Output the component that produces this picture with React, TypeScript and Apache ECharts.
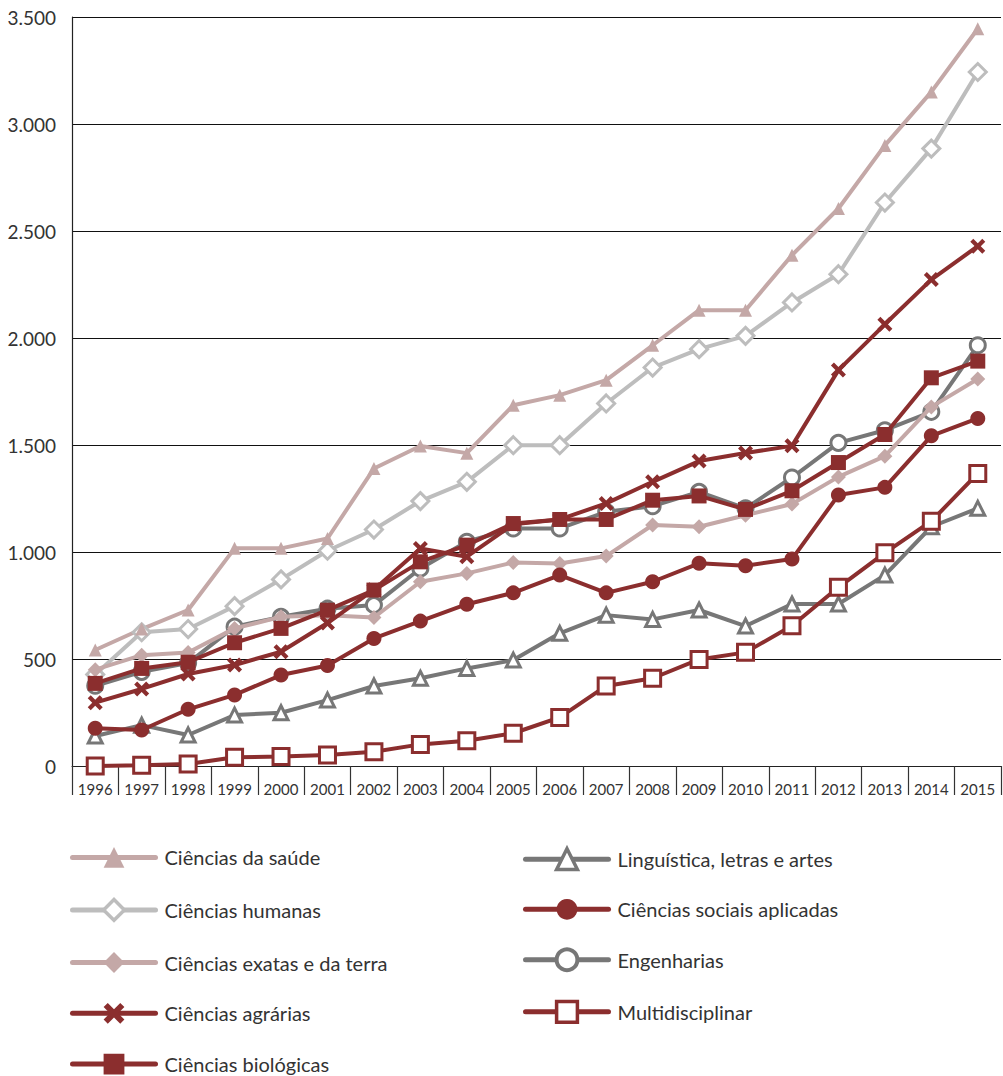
import React, { useEffect, useRef } from "react";
import * as echarts from "echarts";

const years = ["1996","1997","1998","1999","2000","2001","2002","2003","2004","2005","2006","2007","2008","2009","2010","2011","2012","2013","2014","2015"];
const yTicks = [0, 500, 1000, 1500, 2000, 2500, 3000, 3500];

const saude = [542, 640, 729, 1017, 1017, 1063, 1390, 1495, 1462, 1686, 1733, 1803, 1966, 2130, 2130, 2387, 2605, 2900, 3150, 3445];
const humanas = [428, 625, 640, 747, 872, 1006, 1105, 1238, 1328, 1499, 1499, 1694, 1862, 1948, 2010, 2166, 2298, 2633, 2885, 3243];
const exatas = [450, 518, 530, 643, 697, 705, 694, 861, 900, 951, 946, 981, 1126, 1118, 1172, 1224, 1351, 1448, 1678, 1808];
const agrarias = [296, 360, 430, 472, 534, 668, 824, 1016, 978, 1130, 1152, 1227, 1328, 1425, 1463, 1496, 1850, 2064, 2273, 2429];
const biologicas = [386, 456, 485, 576, 643, 728, 822, 954, 1032, 1133, 1152, 1152, 1242, 1262, 1199, 1286, 1418, 1549, 1814, 1892];
const linguistica = [140, 191, 145, 238, 249, 308, 374, 410, 456, 495, 620, 705, 685, 729, 654, 757, 757, 892, 1118, 1204];
const sociais = [176, 168, 265, 332, 425, 470, 596, 677, 756, 809, 892, 809, 861, 947, 936, 967, 1266, 1302, 1543, 1624];
const engenharias = [375, 440, 481, 651, 697, 735, 752, 923, 1048, 1110, 1110, 1188, 1214, 1281, 1204, 1348, 1510, 1569, 1655, 1966];
const multidisciplinar = [0, 3, 9, 41, 44, 51, 67, 101, 118, 153, 227, 374, 410, 498, 531, 655, 835, 996, 1144, 1367];

const PINK = "#c4a8a7";
const LGRAY = "#bdbdbd";
const RED = "#8b2e2e";
const DGRAY = "#777777";
const XPATH = "path://M0,2 L2,0 L5,3 L8,0 L10,2 L7,5 L10,8 L8,10 L5,7 L2,10 L0,8 L3,5 Z";

const FONT = "Lato, 'Open Sans', sans-serif";

export default function App() {
  const ref = useRef<HTMLDivElement>(null);
  useEffect(() => {
    document.body.style.margin = "0";
    const chart = echarts.init(ref.current!, null, { renderer: "svg" });

    const mk = (name: string, data: number[], color: string, symbol: string, size: number, open: boolean, z: number) => ({
      name,
      type: "line",
      data,
      z,
      symbol,
      symbolSize: size,
      symbolKeepAspect: false,
      showAllSymbol: true,
      lineStyle: { color, width: 4 },
      itemStyle: open
        ? { color: "#ffffff", borderColor: color, borderWidth: 3 }
        : { color, borderColor: color, borderWidth: 0 },
      emphasis: { disabled: true },
    });

    const series = [
      mk("Engenharias", engenharias, DGRAY, "circle", 15, true, 2),
      mk("Linguística, letras e artes", linguistica, DGRAY, "triangle", 14, true, 2),
      mk("Ciências humanas", humanas, LGRAY, "diamond", 17, true, 3),
      mk("Ciências da saúde", saude, PINK, "triangle", 13, false, 3),
      mk("Ciências exatas e da terra", exatas, PINK, "diamond", 15, false, 3),
      mk("Ciências agrárias", agrarias, RED, XPATH, 15, false, 4),
      mk("Ciências biológicas", biologicas, RED, "rect", 15, false, 4),
      mk("Ciências sociais aplicadas", sociais, RED, "circle", 15, false, 4),
      mk("Multidisciplinar", multidisciplinar, RED, "rect", 16, true, 4),
    ];

    const legendBase = {
      orient: "vertical",
      top: 847,
      padding: 0,
      itemWidth: 83,
      itemHeight: 26,
      itemGap: 30,
      selectedMode: false,
      lineStyle: { width: 5, cap: "round" },
      textStyle: { fontFamily: FONT, fontSize: 20, color: "#333", padding: [0, 0, 0, 4] },
    };

    chart.setOption({
      animation: false,
      backgroundColor: "#ffffff",
      grid: { left: 72, right: 2, top: 17, bottom: 310, containLabel: false },
      legend: [
        {
          ...legendBase,
          left: 70,
          data: [
            { name: "Ciências da saúde" },
            { name: "Ciências humanas", itemStyle: { borderWidth: 3.5 } },
            { name: "Ciências exatas e da terra" },
            { name: "Ciências agrárias" },
            { name: "Ciências biológicas" },
          ],
        },
        {
          ...legendBase,
          left: 523,
          itemGap: 27.6,
          data: [
            { name: "Linguística, letras e artes", itemStyle: { borderWidth: 3.5 } },
            { name: "Ciências sociais aplicadas" },
            { name: "Engenharias", itemStyle: { borderWidth: 4 } },
            { name: "Multidisciplinar", itemStyle: { borderWidth: 3.5 } },
          ],
        },
      ],
      xAxis: {
        type: "category",
        data: years,
        boundaryGap: true,
        axisLine: { show: true, lineStyle: { color: "#222", width: 1 } },
        axisTick: { show: true, length: 29, lineStyle: { color: "#333", width: 1.2 } },
        axisLabel: { fontFamily: FONT, fontSize: 15, color: "#333", margin: 15 },
        splitLine: { show: false },
      },
      yAxis: {
        type: "value",
        min: yTicks[0],
        max: yTicks[yTicks.length - 1],
        interval: 500,
        axisLine: { show: true, lineStyle: { color: "#222", width: 1.2 } },
        axisTick: { show: false },
        splitLine: { show: true, lineStyle: { color: "#111", width: 1 } },
        axisLabel: {
          fontFamily: FONT,
          fontSize: 19,
          color: "#333",
          margin: 16,
          formatter: (v: number) => v.toLocaleString("de-DE"),
        },
      },
      series,
    });
    return () => chart.dispose();
  }, []);
  return <div ref={ref} style={{ width: 1003, height: 1076 }} />;
}
